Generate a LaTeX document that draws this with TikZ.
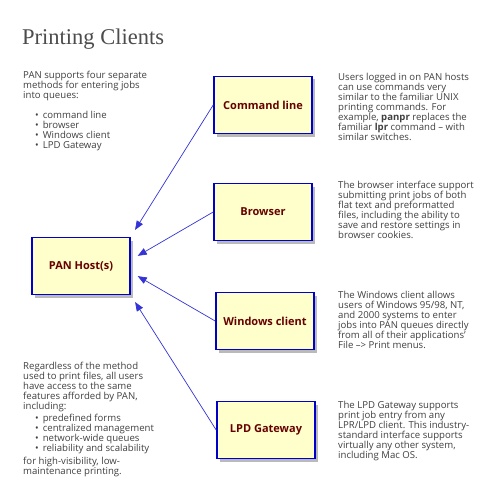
\documentclass[tikz,border=0pt]{standalone}
\usepackage{fontspec}
\setmainfont{Open Sans}
\newfontfamily\titlefont{Liberation Serif}
\usetikzlibrary{arrows.meta,positioning,shadows}
\definecolor{BoxFill}{RGB}{255,255,204}
\definecolor{BoxRule}{RGB}{0,0,204}
\definecolor{BoxText}{RGB}{102,0,0}
\definecolor{LinkBlue}{RGB}{51,51,214}
\definecolor{NoteGray}{RGB}{64,64,64}
\newcommand{\bul}[1]{\hspace*{12pt}\textbullet\hspace{4pt}#1}

\begin{document}
\begin{tikzpicture}[
  x=1pt, y=-1pt,
  font=\fontsize{9.6}{10}\selectfont,
  client/.style={rectangle, draw=BoxRule, line width=1.6pt, fill=BoxFill, minimum width=98pt, minimum height=57pt, font=\fontsize{11}{12}\selectfont\bfseries, text=BoxText, drop shadow={shadow xshift=3pt, shadow yshift=-3pt, fill=black!45, opacity=0.6}},
  note/.style={anchor=north west, align=left, inner sep=0pt, text=NoteGray},
  link/.style={-{Triangle[length=9pt, width=7pt]}, draw=LinkBlue, line width=0.7pt, shorten >=8pt},
]
\useasboundingbox[fill=white] (0,0) rectangle (495,500);
\node[anchor=base west, inner sep=0pt, font=\titlefont\fontsize{22.5}{24}\selectfont, text=black!70] (title) at (22,45) {Printing Clients};
% client boxes
\node[client] (cmd) at (263,105) {Command line};
\node[client] (browser) at (263,212) {Browser};
\node[client] (pan) at (81,266) {PAN Host(s)};
\node[client] (win) at (265,321) {Windows client};
\node[client] (lpd) at (266,430) {LPD Gateway};
\draw[link] (cmd.west) -- (pan.north east);
\draw[link] (browser.west) -- (pan.7);
\draw[link] (win.west) -- (pan.-7);
\draw[link] (lpd.west) -- (pan.south east);
% left notes
\node[note] (intro) at (23,71) {PAN supports four separate\\methods for entering jobs\\into queues:\\[10pt]\bul{command line}\\\bul{browser}\\\bul{Windows client}\\\bul{LPD Gateway}};
\node[note] (common) at (23,362) {Regardless of the method\\used to print files, all users\\have access to the same\\features afforded by PAN,\\including:\\[2pt]\bul{predefined forms}\\\bul{centralized management}\\\bul{network-wide queues}\\\bul{reliability and scalability}\\[3pt]for high-visibility, low-\\maintenance printing.};
% right notes
\node[note] (cmdtext) at (338,73) {Users logged in on PAN hosts\\can use commands very\\similar to the familiar UNIX\\printing commands. For\\example, \textbf{panpr} replaces the\\familiar \textbf{lpr} command – with\\similar switches.};
\node[note] (browsertext) at (338,181) {The browser interface support\\submitting print jobs of both\\flat text and preformatted\\files, including the ability to\\save and restore settings in\\browser cookies.};
\node[note] (wintext) at (338,291) {The Windows client allows\\users of Windows 95/98, NT,\\and 2000 systems to enter\\jobs into PAN queues directly\\from all of their applications’\\File –> Print menus.};
\node[note] (lpdtext) at (338,401) {The LPD Gateway supports\\print job entry from any\\LPR/LPD client. This industry-\\standard interface supports\\virtually any other system,\\including Mac OS.};
\end{tikzpicture}
\end{document}
